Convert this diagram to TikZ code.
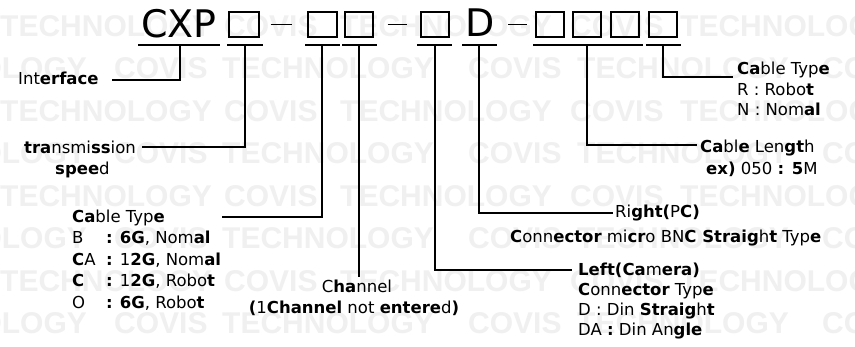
\documentclass[tikz,border=0pt]{standalone}
\usepackage{fontspec}
\setmainfont{DejaVu Sans}
\newfontfamily\wmfont{Liberation Sans}
\newcommand\bo[1]{\textbf{#1}}
\definecolor{wmgray}{RGB}{240,240,240}
\begin{document}
\begin{tikzpicture}[x=1pt,y=-1pt,
  lbl/.style={inner sep=0pt, font=\fontsize{16.5}{20}\selectfont, anchor=base west},
  big/.style={inner sep=0pt, font=\fontsize{38}{38}\selectfont, anchor=base west},
  wm/.style={inner sep=0pt, text=wmgray, font=\wmfont\bfseries\fontsize{30}{30}\selectfont, anchor=base west},
  codebox/.style={draw, line width=1.1pt, minimum width=28pt, minimum height=25pt, inner sep=0pt},
  wire/.style={line width=1.4pt},
  dashline/.style={line width=1.7pt}]
\useasboundingbox (0,0) rectangle (855,346);
\fill[white] (0,0) rectangle (855,346);
% watermark
\begin{scope}
\clip (0,0) rectangle (855,346);
\foreach \yy in {36,121,206,291} {
  \foreach \xx [count=\i] in {0,340,680} \node[wm] (wte-\yy-\i) at (\xx,\yy) {TECHNOLOGY};
  \foreach \xx [count=\i] in {224,570} \node[wm] (wce-\yy-\i) at (\xx,\yy) {COVIS};
}
\foreach \yy in {78.5,163.5,248.5,333.5} {
  \foreach \xx [count=\i] in {-125,222,577} \node[wm] (wto-\yy-\i) at (\xx,\yy) {TECHNOLOGY};
  \foreach \xx [count=\i] in {114,468,822} \node[wm] (wco-\yy-\i) at (\xx,\yy) {COVIS};
}
\end{scope}
% header
\node[big] (cxp) at (141,37) {CXP};
\node[big] (dd) at (465,36) {D};
\node[codebox, minimum width=30pt] (b1) at (244,24.5) {};
\node[codebox, minimum width=29pt] (b2) at (322.5,24.5) {};
\node[codebox] (b3) at (359,24.5) {};
\node[codebox] (b4) at (435,24.5) {};
\node[codebox] (b5) at (550,24.5) {};
\node[codebox] (b6) at (587,24.5) {};
\node[codebox] (b7) at (625,24.5) {};
\node[codebox] (b8) at (663,24.5) {};
\draw[dashline] ([xshift=11pt]b1.east) -- ([xshift=-15pt]b2.west);
\draw[dashline] ([xshift=14pt]b3.east) -- ([xshift=-13pt]b4.west);
\draw[dashline] ([xshift=-27pt]b5.west) -- ([xshift=-8pt]b5.west);
% underlines
\draw[wire] (138,45) -- (220,45);
\draw[wire] (227,45) -- (263,45);
\draw[wire] (305,45) -- (340,45);
\draw[wire] (342,45) -- (377,45);
\draw[wire] (417,45) -- (452,45);
\draw[wire] (462,45) -- (497,45);
\draw[wire] (533,45) -- (643,45);
\draw[wire] (646,45) -- (681,45);
% tick points
\coordinate (t0) at (180,45);
\coordinate (t1) at (245,45);
\coordinate (t2) at (322,45);
\coordinate (t3) at (359,45);
\coordinate (t4) at (435,45);
\coordinate (t5) at (479,45);
\coordinate (t6) at (587,45);
\coordinate (t7) at (663,45);
% end points
\coordinate (e0) at (112,80);
\coordinate (e1) at (142,147);
\coordinate (e2) at (222,217);
\coordinate (e3) at (359,277);
\coordinate (e4) at (572,270);
\coordinate (e5) at (613,213);
\coordinate (e6) at (697,145);
\coordinate (e7) at (733,77);
% labels
\node[lbl] (interface) at (18,84) {Int\bo{erface}};
\node[lbl] (trans) at (24,153) {\bo{tra}nsmi\bo{ss}ion};
\node[lbl] (speed) at (55,174) {\bo{spee}d};
\node[lbl] (ctl) at (72,222) {\bo{Ca}ble Typ\bo{e}};
\node[lbl] (ctl1) at (72,243.5) {\makebox[34pt][l]{B}\bo{:} \bo{6G}, Nom\bo{al}};
\node[lbl] (ctl2) at (72,265) {\makebox[34pt][l]{\bo{C}A}\bo{:} 1\bo{2G}, Nom\bo{al}};
\node[lbl] (ctl3) at (72,286.5) {\makebox[34pt][l]{\bo{C}}\bo{:} 1\bo{2G}, Robo\bo{t}};
\node[lbl] (ctl4) at (72,308) {\makebox[34pt][l]{O}\bo{:} \bo{6G}, Robo\bo{t}};
\node[lbl, anchor=base] (chan) at (357,292) {C\bo{ha}nnel};
\node[lbl, anchor=base] (chan2) at (354,313) {\bo{(}1\bo{Channel} not \bo{entere}d\bo{)}};
\node[lbl] (right) at (615,217) {Ri\bo{ght(}P\bo{C)}};
\node[lbl] (right2) at (510,242) {\bo{C}onn\bo{ector} mi\bo{cr}o BN\bo{C Straig}h\bo{t} Typ\bo{e}};
\node[lbl] (left) at (578,275) {\bo{Left(Ca}m\bo{era)}};
\node[lbl] (left2) at (578,295.5) {\bo{C}onn\bo{ector} Typ\bo{e}};
\node[lbl] (left3) at (578,315.5) {D : Din \bo{Straig}h\bo{t}};
\node[lbl] (left4) at (578,335.5) {DA \bo{:} Din An\bo{gle}};
\node[lbl] (len) at (700,152) {\bo{Ca}bl\bo{e} Len\bo{gt}h};
\node[lbl] (len2) at (706,174) {\bo{ex)} 050 \bo{: 5}M};
\node[lbl] (ctr) at (737,74.5) {\bo{Ca}ble Typ\bo{e}};
\node[lbl] (ctr1) at (737,95) {R : Robo\bo{t}};
\node[lbl] (ctr2) at (737,115.5) {N : Nom\bo{al}};
% connectors
\draw[wire] (t0) |- (e0);
\draw[wire] (t1) |- (e1);
\draw[wire] (t2) |- (e2);
\draw[wire] (t3) -- (e3);
\draw[wire] (t4) |- (e4);
\draw[wire] (t5) |- (e5);
\draw[wire] (t6) |- (e6);
\draw[wire] (t7) |- (e7);
\end{tikzpicture}
\end{document}
